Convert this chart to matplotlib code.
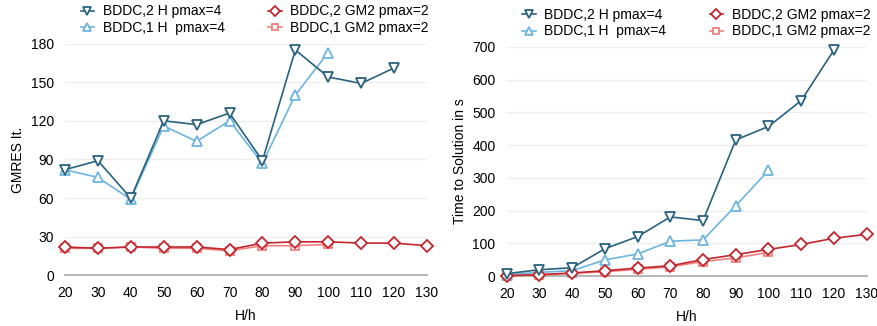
import matplotlib.pyplot as plt

plt.rcParams['font.family'] = ['Liberation Sans', 'DejaVu Sans']

# H/h values
hh_full = [20, 30, 40, 50, 60, 70, 80, 90, 100, 110, 120, 130]
hh_120 = hh_full[:11]
hh_100 = hh_full[:9]

# GMRES iterations
it_bddc2_h = [82, 89, 60, 120, 117, 126, 89, 175, 154, 149, 161]
it_bddc1_h = [82, 76, 59, 116, 104, 120, 87, 140, 173]
it_bddc2_gm2 = [22, 21, 22, 22, 22, 20, 25, 26, 26, 25, 25, 23]
it_bddc1_gm2 = [21, 21, 22, 21, 21, 19, 23, 23, 24]

# time to solution in s
t_bddc2_h = [8, 20, 26, 84, 121, 181, 170, 416, 457, 536, 690]
t_bddc1_h = [5, 12, 17, 50, 68, 107, 111, 215, 323]
t_bddc2_gm2 = [2, 5, 10, 17, 25, 32, 51, 66, 82, 97, 116, 128]
t_bddc1_gm2 = [1, 4, 9, 14, 21, 29, 45, 56, 73]

labels = ['BDDC,2 H pmax=4', 'BDDC,1 H  pmax=4',
          'BDDC,2 GM2 pmax=2', 'BDDC,1 GM2 pmax=2']
colors = ['#29627f', '#6cb5e1', '#c1272d', '#f27f7f']
markers = ['v', '^', 'D', 's']
msizes = [7, 7, 6, 6]

fig = plt.figure(figsize=(8.78, 3.26), dpi=100)
ax1 = fig.add_axes([0.074, 0.1555, 0.4123, 0.711])
ax2 = fig.add_axes([0.5771, 0.1525, 0.41, 0.704])


def draw(ax, series, ymax, ystep, ylabel, ylpad):
    # draw light ones first so the dark lines sit on top
    order = [3, 1, 2, 0]
    handles = {}
    for i in order:
        x, y = series[i]
        h, = ax.plot(x, y, color=colors[i], marker=markers[i], ms=msizes[i],
                     mfc='white', mec=colors[i], mew=1.3, lw=1.2,
                     clip_on=False, zorder=3, label=labels[i])
        handles[i] = h
    ax.set_xlim(20, 130)
    ax.set_ylim(0, ymax)
    ax.set_xticks(hh_full)
    ax.set_yticks(range(0, ymax + 1, ystep))
    ax.grid(axis='y', color='#eeeeee', lw=1)
    ax.set_axisbelow(True)
    for s in ['top', 'right', 'left']:
        ax.spines[s].set_visible(False)
    ax.spines['bottom'].set_color('#aaaaaa')
    ax.spines['bottom'].set_linewidth(1.2)
    ax.tick_params(length=0, labelsize=10, pad=8)
    ax.set_xlabel('H/h', fontsize=10, labelpad=6)
    ax.set_ylabel(ylabel, fontsize=10, labelpad=ylpad)
    hs = [handles[0], handles[1], handles[2], handles[3]]
    ax.legend(hs, labels, loc='lower left', bbox_to_anchor=(0.02, 1.0),
              ncol=2, frameon=False, fontsize=10, handlelength=1.0,
              handletextpad=0.6, columnspacing=3.1, labelspacing=0.2,
              markerscale=0.8, borderaxespad=0.2)


draw(ax1, [(hh_120, it_bddc2_h), (hh_100, it_bddc1_h),
           (hh_full, it_bddc2_gm2), (hh_100, it_bddc1_gm2)],
     180, 30, 'GMRES It.', 4)
draw(ax2, [(hh_120, t_bddc2_h), (hh_100, t_bddc1_h),
           (hh_full, t_bddc2_gm2), (hh_100, t_bddc1_gm2)],
     700, 100, 'Time to Solution in s', 4)

fig.savefig('out.png', dpi=100)
